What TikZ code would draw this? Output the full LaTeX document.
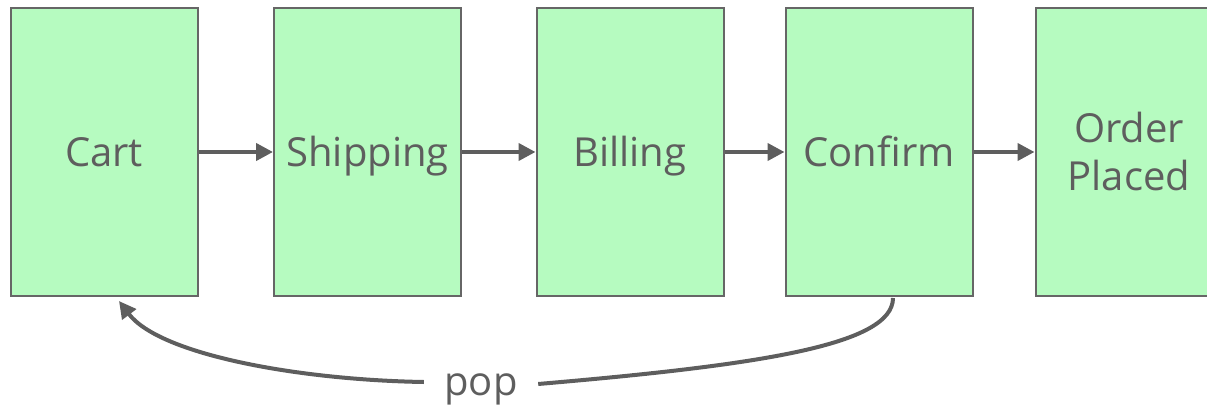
\documentclass[tikz,border=0pt]{standalone}
\usepackage{fontspec}
\setmainfont{Open Sans}
\usetikzlibrary{arrows.meta,calc}
\definecolor{stepfill}{RGB}{182,251,192}
\definecolor{stepline}{RGB}{102,102,102}
\definecolor{ink}{RGB}{94,94,94}
\tikzset{
  stepbox/.style={draw=stepline, line width=2pt, fill=stepfill, rectangle,
    minimum width=187pt, minimum height=288pt, inner sep=0pt,
    text=ink, align=center, font=\fontsize{40}{48}\selectfont},
  oneline/.style={text height=40pt, text depth=11pt},
  flow/.style={draw=ink, line width=4pt,
    -{Triangle[length=17pt,width=17pt]}},
  lbl/.style={text=ink, font=\fontsize{40}{48}\selectfont, inner sep=0pt,
    text height=22pt, text depth=10pt}
}
\begin{document}
\begin{tikzpicture}[x=1pt,y=-1pt]
\useasboundingbox (0,0) rectangle (1207,406);
\clip (0,0) rectangle (1207,406);
\node[stepbox, oneline] (cart) at (104,152) {Cart};
\node[stepbox, oneline] (ship) at (367.5,152) {Shipping};
\node[stepbox, oneline] (bill) at (630,152) {Billing};
\node[stepbox, oneline] (conf) at (879,152) {Confirm};
\node[stepbox] (done) at (1129,152) {Order\\Placed};
\draw[flow] (cart.east) -- (ship.west);
\draw[flow] (ship.east) -- (bill.west);
\draw[flow] (bill.east) -- (conf.west);
\draw[flow] (conf.east) -- (done.west);
% back edge: Confirm returns to Cart
\node[lbl, minimum width=114pt] (pop) at (481,389) {pop};
\coordinate (popsrc) at ($(conf.south)+(14,1)$);
\coordinate (poptgt) at ($(cart.south)+(15,4)$);
\draw[draw=ink, line width=4pt] (popsrc) .. controls (893,345) and (760,365) .. ($(pop.east)+(0,-5)$);
\draw[flow] ($(pop.west)+(0,-7)$) .. controls (300,380) and (160,355) .. (poptgt);
\end{tikzpicture}
\end{document}
